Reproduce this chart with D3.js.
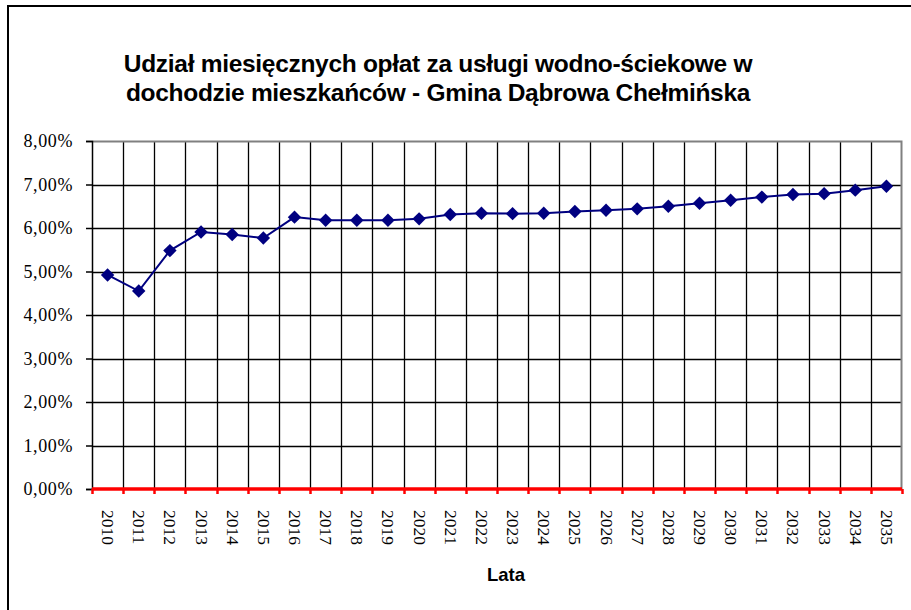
<!DOCTYPE html>
<html>
<head>
<meta charset="utf-8">
<script src="https://cdn.jsdelivr.net/npm/d3@7"></script>
<style>
  body { margin: 0; background: #fff; }
  svg { display: block; }
</style>
</head>
<body>
<script>
// data
var years = ["2010", "2011", "2012", "2013", "2014", "2015", "2016", "2017", "2018",
    "2019", "2020", "2021", "2022", "2023", "2024", "2025", "2026", "2027", "2028",
    "2029", "2030", "2031", "2032", "2033", "2034", "2035"];
var shares = [4.92, 4.55, 5.48, 5.91, 5.85, 5.77, 6.25, 6.18, 6.18,
    6.18, 6.21, 6.31, 6.34, 6.33, 6.34, 6.38, 6.41, 6.44, 6.50,
    6.57, 6.64, 6.71, 6.77, 6.79, 6.87, 6.96];
var yTicks = [0, 1, 2, 3, 4, 5, 6, 7, 8];
var titleLines = ["Udział miesięcznych opłat za usługi wodno-ściekowe w",
    "dochodzie mieszkańców - Gmina Dąbrowa Chełmińska"];
var xTitle = "Lata";

// margin
var W = 911, H = 610;
var margin = {top: 141, right: 9, bottom: 121, left: 92},
    width = W - margin.left - margin.right,
    height = H - margin.top - margin.bottom;

var svg = d3.select("body").append("svg")
    .attr("width", W)
    .attr("height", H);

// outer chart frame (only left and top visible)
svg.append("path")
    .attr("d", "M8," + H + "V6H" + W)
    .attr("fill", "none")
    .attr("stroke", "#000")
    .attr("stroke-width", 2);

// title
svg.append("g").selectAll("text")
    .data(titleLines)
    .enter().append("text")
    .attr("x", 438)
    .attr("y", function(d, i) { return 72 + i * 28.5; })
    .attr("text-anchor", "middle")
    .style("font-family", "'Liberation Sans', Arial, sans-serif")
    .style("font-weight", "bold")
    .style("font-size", "24.5px")
    .style("letter-spacing", "-0.3px")
    .text(function(d) { return d; });

// scales
var x = d3.scaleBand()
    .domain(years)
    .range([0, width])
    .padding(0);

var y = d3.scaleLinear()
    .domain([0, 8])
    .range([height, 0]);

var g = svg.append("g")
    .attr("transform", "translate(" + margin.left + "," + margin.top + ")");

// horizontal gridlines
g.append("g").selectAll("line")
    .data(yTicks.filter(function(d) { return d > 0 && d < 8; }))
    .enter().append("line")
    .attr("x1", 0)
    .attr("x2", width)
    .attr("y1", function(d) { return Math.round(y(d)) + 0.5; })
    .attr("y2", function(d) { return Math.round(y(d)) + 0.5; })
    .attr("stroke", "#000")
    .attr("stroke-width", 1.3);

// vertical gridlines at category boundaries
g.append("g").selectAll("line")
    .data(years.slice(1))
    .enter().append("line")
    .attr("x1", function(d) { return Math.round(x(d)) + 0.5; })
    .attr("x2", function(d) { return Math.round(x(d)) + 0.5; })
    .attr("y1", 0)
    .attr("y2", height)
    .attr("stroke", "#000")
    .attr("stroke-width", 1.3);

// plot border top/right (grey)
g.append("path")
    .attr("d", "M0,0.5H" + (width - 0.5) + "V" + height)
    .attr("fill", "none")
    .attr("stroke", "#808080")
    .attr("stroke-width", 2);

// y axis
var yAxis = g.append("g")
    .call(d3.axisLeft(y)
        .tickValues(yTicks)
        .tickSize(6)
        .tickPadding(13)
        .tickFormat(function(d) { return d3.format(".2f")(d).replace(".", ",") + "%"; }));
yAxis.select(".domain")
    .attr("stroke", "#000")
    .attr("stroke-width", 1.5);
yAxis.selectAll(".tick line")
    .attr("stroke", "#000")
    .attr("stroke-width", 1.5);
yAxis.selectAll("text")
    .attr("fill", "#000")
    .style("font-family", "'Liberation Serif', 'Times New Roman', serif")
    .style("font-size", "18px")
    .style("letter-spacing", "0.6px");

// x axis (red, ticks at boundaries)
g.append("line")
    .attr("x1", 0)
    .attr("x2", width)
    .attr("y1", height)
    .attr("y2", height)
    .attr("stroke", "#ff0000")
    .attr("stroke-width", 3.5);

g.append("g").selectAll("line")
    .data(years.concat(["end"]))
    .enter().append("line")
    .attr("x1", function(d, i) { return Math.round(i * x.bandwidth()) + 0.5; })
    .attr("x2", function(d, i) { return Math.round(i * x.bandwidth()) + 0.5; })
    .attr("y1", height)
    .attr("y2", height + 5)
    .attr("stroke", "#ff0000")
    .attr("stroke-width", 2.5);

// rotated year labels
g.append("g").selectAll("text")
    .data(years)
    .enter().append("text")
    .attr("transform", function(d) {
        return "translate(" + (x(d) + x.bandwidth() / 2 + 0.5) + "," + (height + 21) + ") rotate(90)";
    })
    .attr("dominant-baseline", "central")
    .attr("text-anchor", "start")
    .style("font-family", "'Liberation Serif', 'Times New Roman', serif")
    .style("font-size", "17.5px")
    .text(function(d) { return d; });

// x axis title
svg.append("text")
    .attr("x", 506)
    .attr("y", 581)
    .attr("text-anchor", "middle")
    .style("font-family", "'Liberation Sans', Arial, sans-serif")
    .style("font-weight", "bold")
    .style("font-size", "18.5px")
    .text(xTitle);

// line
var line = d3.line()
    .x(function(d, i) { return x(years[i]) + x.bandwidth() / 2; })
    .y(function(d) { return y(d); });

g.append("path")
    .datum(shares)
    .attr("d", line)
    .attr("fill", "none")
    .attr("stroke", "#000080")
    .attr("stroke-width", 2);

// diamond markers
g.append("g").selectAll("path")
    .data(shares)
    .enter().append("path")
    .attr("transform", function(d, i) {
        return "translate(" + (x(years[i]) + x.bandwidth() / 2) + "," + y(d) + ")";
    })
    .attr("d", d3.symbol().type(d3.symbolDiamond2).size(115))
    .attr("fill", "#000080");
</script>
</body>
</html>
